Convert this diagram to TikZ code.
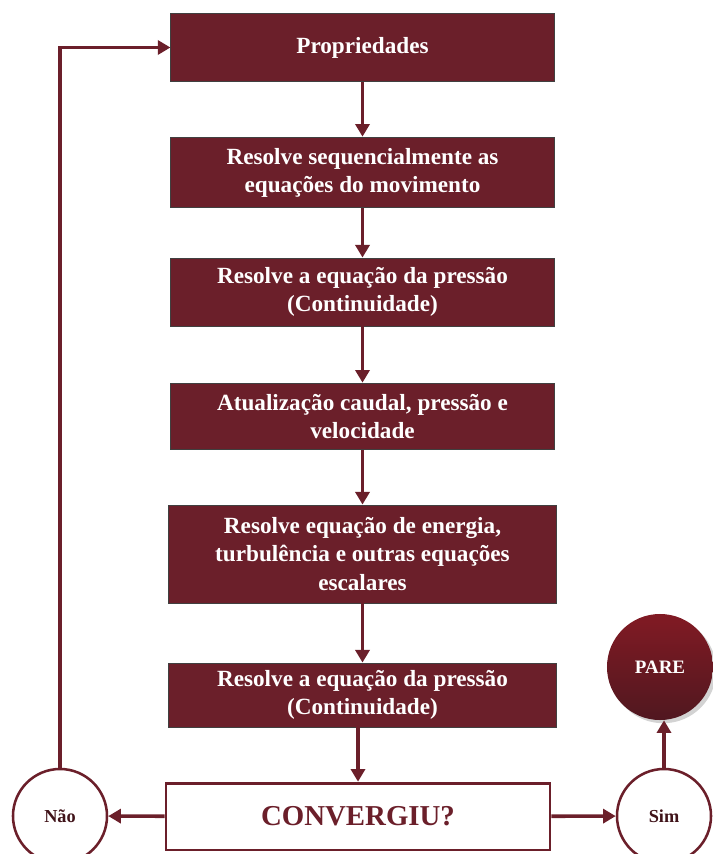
\documentclass[tikz,border=0pt]{standalone}
\usepackage{fontspec}
\setmainfont{Liberation Serif}
\usetikzlibrary{arrows.meta,shadows}
\definecolor{vinho}{RGB}{107,31,42}

\begin{document}
\begin{tikzpicture}[x=0.025cm,y=-0.025cm,
  passo/.style={draw=black!75,line width=.6pt,fill=vinho,text=white,align=center,
    font=\fontsize{16.5}{20}\selectfont\bfseries,minimum width=9.58cm},
  bola/.style={circle,draw=vinho,line width=1.8pt,fill=white,minimum size=2.35cm,
    font=\fontsize{13}{15}\selectfont\bfseries,text=vinho!60!black},
  seta/.style={draw=vinho,line width=2.6pt,-{Triangle[length=9pt,width=10pt]}}]
\useasboundingbox (0,0) rectangle (712,854);

% caixas do ciclo
\node[passo,minimum height=1.72cm] (prop) at (362.5,47.5) {Propriedades};
\node[passo,minimum height=1.77cm] (mov) at (362.5,172.5) {Resolve sequencialmente as\\equações do movimento};
\node[passo,minimum height=1.7cm] (pres) at (362.5,292) {Resolve a equação da pressão\\(Continuidade)};
\node[passo,minimum height=1.67cm] (atual) at (362.5,416.5) {Atualização caudal, pressão e\\velocidade};
\node[passo,minimum height=2.45cm,minimum width=9.7cm] (ener) at (362.5,554) {Resolve equação de energia,\\turbulência e outras equações\\escalares};
\node[passo,minimum height=1.6cm,minimum width=9.7cm] (pres2) at (362.5,695) {Resolve a equação da pressão\\(Continuidade)};
\node[draw=vinho,line width=2pt,fill=white,minimum width=9.6cm,minimum height=1.67cm,
  text=vinho,font=\fontsize{20.5}{24}\selectfont\bfseries] (conv) at (358,816.5) {CONVERGIU?};

% decisao
\node[bola] (nao) at (60,816) {Não};
\node[bola] (sim) at (664,816) {Sim};
\node[circle,minimum size=2.65cm,top color=vinho!85!red,bottom color=vinho!75!black,
  drop shadow={opacity=.35},text=white,font=\fontsize{13.5}{15}\selectfont\bfseries] (pare) at (660,667) {PARE};

% setas
\draw[seta] (prop) -- (mov);
\draw[seta] (mov) -- (pres);
\draw[seta] (pres) -- (atual);
\draw[seta] (atual) -- (ener);
\draw[seta] (ener) -- (pres2);
\draw[seta] (pres2.south -| conv.north) -- (conv.north);
\draw[seta] (conv) -- (nao);
\draw[seta] (conv) -- (sim);
\draw[seta] (sim.north) -- (sim.north |- pare.south);
\draw[seta] (nao.north) |- (prop.west);
\end{tikzpicture}
\end{document}
